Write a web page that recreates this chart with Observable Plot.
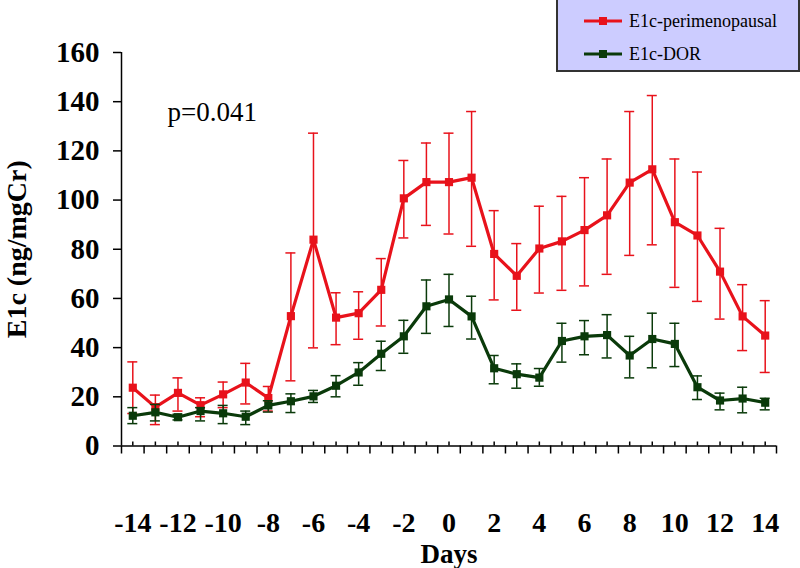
<!DOCTYPE html>
<html><head><meta charset="utf-8">
<script src="https://cdn.jsdelivr.net/npm/d3@7"></script>
<script src="https://cdn.jsdelivr.net/npm/@observablehq/plot@0.6"></script>
<style>
html,body{margin:0;padding:0;background:#fff;}
#wrap{position:relative;width:800px;height:568px;overflow:hidden;}
#legend{position:absolute;left:556px;top:-2px;width:240px;height:70px;background:#ccccff;border:2px solid #333;box-sizing:content-box;font-family:"Liberation Serif","Times New Roman",serif;font-size:18px;color:#000;}
.lrow{position:absolute;left:25px;height:20px;display:flex;align-items:center;}
.lrow svg{margin-right:6px;}
</style></head><body><div id="wrap"></div>
<script>
const days = [-14,-13,-12,-11,-10,-9,-8,-7,-6,-5,-4,-3,-2,-1,0,1,2,3,4,5,6,7,8,9,10,11,12,13,14];
const periMean = [23.7,15.8,21.6,16.6,21.0,25.8,19.5,52.8,83.9,52.2,54.0,63.5,100.7,107.3,107.3,109.1,78.1,69.2,80.3,83.2,87.8,93.8,107.1,112.5,91.0,85.6,70.9,52.7,44.9];
const periLo   = [13.2,8.7,14.2,11.9,15.6,17.1,14.2,26.5,39.9,41.2,43.4,48.8,84.6,89.7,86.2,81.2,59.4,55.2,62.2,63.3,65.1,69.8,77.5,81.8,64.5,58.8,51.6,38.8,29.9];
const periHi   = [34.2,20.7,27.7,19.6,26.0,33.6,24.2,78.5,127.2,62.3,62.7,76.2,116.1,123.2,127.2,136.0,95.7,82.3,97.5,101.5,109.1,116.7,136.0,142.5,116.7,111.4,88.5,65.6,59.1];
const dorMean = [12.3,13.7,11.7,14.2,13.3,11.9,16.5,18.2,20.2,24.5,29.9,37.5,44.6,56.8,59.6,52.7,31.6,29.2,27.8,42.7,44.6,45.1,36.8,43.5,41.5,23.9,18.5,19.3,17.6];
const dorLo   = [9.1,10.2,10.6,10.2,9.1,8.7,13.8,13.6,17.7,20.0,24.7,30.7,37.7,45.8,48.6,43.5,25.3,23.5,24.3,34.1,37.1,35.8,27.7,31.8,32.3,18.9,14.7,13.5,14.7];
const dorHi   = [15.6,16.9,12.9,15.6,16.5,14.2,18.4,21.2,22.6,28.6,33.9,42.6,51.1,67.5,69.8,60.9,36.8,33.4,31.5,49.9,51.0,53.4,44.6,54.0,49.9,28.5,21.5,23.9,19.4];
const seriesNames = ["E1c-perimenopausal","E1c-DOR"];
const seriesColors = ["#e8121b","#0a3a0a"];
const yTicks = [0,20,40,60,80,100,120,140,160];
const xLabels = [-14,-12,-10,-8,-6,-4,-2,0,2,4,6,8,10,12,14];
const yTitle = "E1c (ng/mgCr)";
const xTitle = "Days";
const pText = "p=0.041";

const peri = days.map((d,i)=>({day:d, v:periMean[i], lo:periLo[i], hi:periHi[i]}));
const dor  = days.map((d,i)=>({day:d, v:dorMean[i], lo:dorLo[i], hi:dorHi[i]}));
const bounds = days.map(d=>d-0.5).concat([days[days.length-1]+0.5]);
const xmin = bounds[0], xmax = bounds[bounds.length-1];
const serif = "Liberation Serif, Times New Roman, serif";

function seriesMarks(data, color){
  return [
    Plot.ruleX(data, {x:"day", y1:"lo", y2:"hi", stroke:color, strokeWidth:1.5}),
    Plot.ruleY(data, {y:"hi", x1:"day", x2:"day", insetLeft:-5, insetRight:-5, stroke:color, strokeWidth:1.5}),
    Plot.ruleY(data, {y:"lo", x1:"day", x2:"day", insetLeft:-5, insetRight:-5, stroke:color, strokeWidth:1.5}),
    Plot.line(data, {x:"day", y:"v", stroke:color, strokeWidth:3.2}),
    Plot.dot(data, {x:"day", y:"v", symbol:"square", r:4.6, fill:color, stroke:"none"})
  ];
}

const chart = Plot.plot({
  width:800, height:568,
  marginLeft:121, marginRight:24, marginTop:52, marginBottom:122.5,
  style:{background:"transparent", fontFamily:serif},
  x:{domain:[xmin,xmax], axis:null},
  y:{domain:[0,160], axis:null},
  marks:[
    Plot.ruleX([xmin], {x:d=>d, y1:0, y2:160, stroke:"#000", strokeWidth:1.5}),
    Plot.ruleY([0], {y:d=>d, x1:xmin, x2:xmax, stroke:"#000", strokeWidth:1.5}),
    Plot.ruleY(yTicks, {y:d=>d, x1:xmin, x2:xmin, insetLeft:-8, stroke:"#000", strokeWidth:1.5}),
    Plot.text(yTicks, {y:d=>d, x:xmin, dx:-22, text:d=>String(d), textAnchor:"end", fontSize:29, fontWeight:"bold", fontFamily:serif, fill:"#000"}),
    Plot.ruleX(bounds, {x:d=>d, y1:0, y2:0, insetTop:8, stroke:"#000", strokeWidth:1.5}),
    Plot.ruleX(days, {x:d=>d, y1:0, y2:0, insetBottom:4, stroke:"#000", strokeWidth:1.5}),
    Plot.text(xLabels, {x:d=>d, y:0, dy:86, text:d=>String(d), lineAnchor:"bottom", fontSize:28, fontWeight:"bold", fontFamily:serif, fill:"#000"}),
    Plot.text([xTitle], {frameAnchor:"bottom", dy:117, text:d=>d, lineAnchor:"bottom", fontSize:27, fontWeight:"bold", fontFamily:serif, fill:"#000"}),
    Plot.text([yTitle], {x:xmin, y:80, dx:-96, rotate:-90, text:d=>d, lineAnchor:"bottom", fontSize:28, fontWeight:"bold", fontFamily:serif, fill:"#000"}),
    Plot.text([pText], {frameAnchor:"top-left", dx:46, dy:68, text:d=>d, textAnchor:"start", lineAnchor:"bottom", fontSize:27, fontFamily:serif, fill:"#000"}),
    ...seriesMarks(peri, seriesColors[0]),
    ...seriesMarks(dor, seriesColors[1])
  ]
});
const wrap = document.getElementById("wrap");
wrap.appendChild(chart);

const leg = document.createElement("div");
leg.id = "legend";
seriesNames.forEach((name,i)=>{
  const row = document.createElement("div");
  row.className = "lrow";
  row.style.top = (i===0 ? 11 : 44) + "px";
  row.innerHTML = `<svg width="40" height="10"><line x1="1" y1="5" x2="39" y2="5" stroke="${seriesColors[i]}" stroke-width="3"/><rect x="16" y="1" width="8" height="8" fill="${seriesColors[i]}"/></svg><span>${name}</span>`;
  leg.appendChild(row);
});
wrap.appendChild(leg);
</script>
</body></html>
